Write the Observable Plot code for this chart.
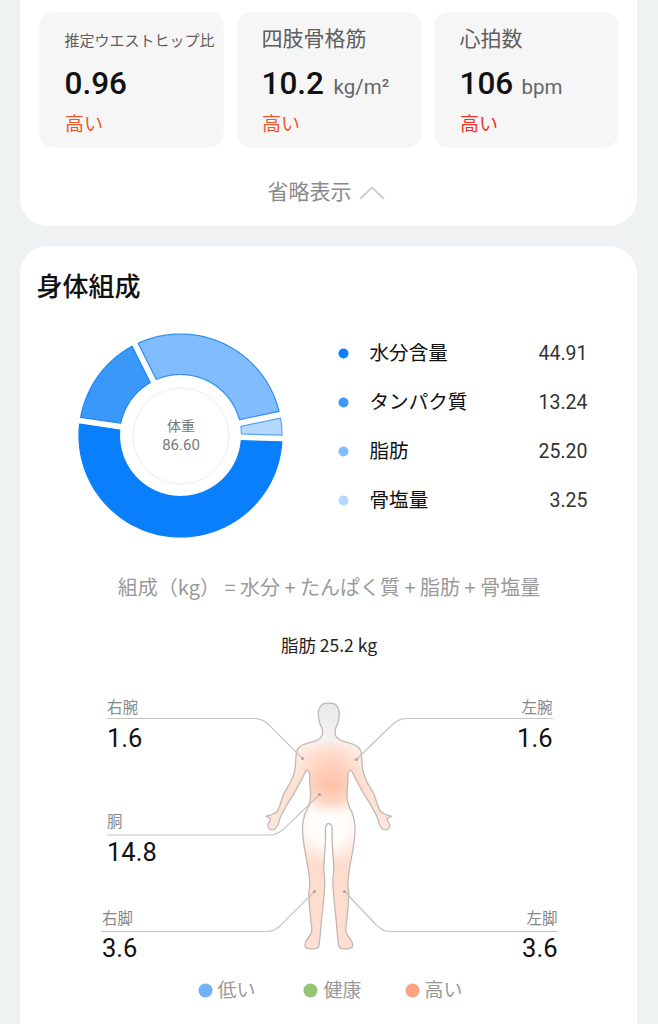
<!DOCTYPE html>
<html><head><meta charset="utf-8">
<script src="https://cdn.jsdelivr.net/npm/d3@7"></script>
<script src="https://cdn.jsdelivr.net/npm/@observablehq/plot@0.6"></script>
<style>html,body{margin:0;padding:0;background:#eff2f3}svg{display:block}</style>
</head><body><div id="chart"></div>
<script>
// ---- values ----
const metricNames = ["推定ウエストヒップ比", "四肢骨格筋", "心拍数"];
const metricValues = ["0.96", "10.2", "106"];
const metricUnits = ["", "kg/m²", "bpm"];
const metricStatus = ["高い", "高い", "高い"];
const collapseLabel = "省略表示";
const sectionTitle = "身体組成";
const weightLabel = "体重";
const weightValue = "86.60";
const compositionNames = ["水分含量", "タンパク質", "脂肪", "骨塩量"];
const compositionValues = [44.91, 13.24, 25.20, 3.25];
const formula = "組成（kg） = 水分 + たんぱく質 + 脂肪 + 骨塩量";
const fatTitle = "脂肪 25.2 kg";
const regionNames = ["右腕", "左腕", "胴", "右脚", "左脚"];
const regionValues = ["1.6", "1.6", "14.8", "3.6", "3.6"];
const levelNames = ["低い", "健康", "高い"];

// ---- layout & style ----
const FONT = "'Noto Sans CJK JP','Noto Sans',sans-serif";
const NUM = "Roboto,'Noto Sans',sans-serif";
const W = 658, H = 1024;
const cards = [{x1:39.5,x2:223.5},{x1:237,x2:421},{x1:434,x2:618}];
const metricX = [64, 261, 459], unitX = [0, 333, 521];
const statusColors = ["#f0562c", "#f0562c", "#e9342c"];
const donut = {cx:180.5, cy:435.5, R:101.5, r:61, start:1.7, gap:3.4};
const sliceFill = ["#0a7ffb", "#3b98fb", "#81bcff", "#b4d8ff"];
const sliceEdge = ["#0a7ffb", "#1f87f2", "#2f90f2", "#55a6f5"];
const legendY = [353, 402, 451, 500];
const regionLayout = [
  {x:106.5, a:"start", ly:708, vy:738, from:[107,718], corner:[262,718], to:[302,758]},
  {x:552, a:"end",   ly:708, vy:738, from:[552,718], corner:[398,718], to:[356,759]},
  {x:106.5, a:"start", ly:822, vy:852, from:[107,834.5], corner:[277,834.5], to:[319,794]},
  {x:101.5, a:"start", ly:919, vy:948, from:[102,931], corner:[274,931], to:[314,891]},
  {x:557, a:"end",   ly:919, vy:948, from:[557,931], corner:[382,931], to:[344,891]}
];
const levelLayout = [{dot:205,c:"#72b0fa",t:217},{dot:310,c:"#93c572",t:323},{dot:412,c:"#ffa27f",t:424}];

// ---- silhouette (viewer's left half, local px around its axis) ----
const axisX = 328.3;
const halfOutline = [[0,702.7],[-6.7,704],[-10,709.3],[-10.3,716.7],[-9,722.7],[-6.7,728.3],[-6.7,735],[-11,739.3],[-20,742.3],[-27.7,745.3],[-31.7,750],[-33,758.3],[-34,770],[-38.3,781.7],[-45,793.3],[-49,805],[-51.7,810.7],[-56.7,814],[-62.7,815.7],[-58.3,818.3],[-61,825],[-59,828.7],[-55,829],[-51,825],[-49,818.3],[-43.3,806.7],[-35,793.3],[-26.7,778.3],[-22.3,770],[-19.7,771.7],[-19,781.7],[-18.3,796.7],[-20,805],[-24.3,815],[-26.3,826.7],[-25,843.3],[-21,866.7],[-19,883.3],[-20,893.3],[-18.3,916.7],[-17.3,931.7],[-23.3,941.7],[-23.3,946.7],[-18.3,948.3],[-11,947.3],[-9,938.3],[-7.7,923.3],[-5,896.7],[-4,880],[-5,870],[-3.3,840],[-2.7,825],[0,823]];
const outline = [...halfOutline, ...halfOutline.slice(1,-1).reverse().map(([x,y])=>[-x,y])]
  .map(([x,y])=>({x:axisX+x,y}));

function leader(from, corner, to) {
  // line with a small rounded elbow
  const a = [corner[0]+(from[0]-corner[0])*8/Math.abs(from[0]-corner[0]), corner[1]];
  const L = Math.hypot(to[0]-corner[0],to[1]-corner[1]);
  const b = [corner[0]+(to[0]-corner[0])*10/L, corner[1]+(to[1]-corner[1])*10/L];
  const pts = [from];
  for (let t=0;t<=1.001;t+=0.2) {
    const u=1-t;
    pts.push([u*u*a[0]+2*u*t*corner[0]+t*t*b[0], u*u*a[1]+2*u*t*corner[1]+t*t*b[1]]);
  }
  pts.push(to);
  return pts;
}

// ---- donut geometry from values ----
const total = d3.sum(compositionValues);
let acc = donut.start;
const donutRows = [];
compositionNames.forEach((name,i)=>{
  const a0 = acc, a1 = acc + compositionValues[i]/total*360; acc = a1;
  const outO = Math.asin(donut.gap/donut.R)*180/Math.PI, inO = Math.asin(donut.gap/donut.r)*180/Math.PI;
  const n = Math.max(8, Math.ceil((a1-a0)*1.5));
  for (let k=0;k<=n;k++) {
    const f=k/n;
    const ao=(a0+outO+(a1-a0-2*outO)*f)*Math.PI/180, ai=(a0+inO+(a1-a0-2*inO)*f)*Math.PI/180;
    donutRows.push({name, edge:name+"|edge",
      x1:donut.cx+donut.R*Math.cos(ao), y1:donut.cy+donut.R*Math.sin(ao),
      x2:donut.cx+donut.r*Math.cos(ai), y2:donut.cy+donut.r*Math.sin(ai)});
  }
});

const ringRows = d3.range(0,361,4).map(a=>({x:donut.cx+48*Math.cos(a*Math.PI/180), y:donut.cy+48*Math.sin(a*Math.PI/180)}));

const T = (data,o)=>Plot.text(data,{fontFamily:FONT,lineAnchor:"middle",...o});

function defs() {
  const s = d3.create("svg:defs");
  const lin = s.append("linearGradient").attr("id","bodyBase").attr("gradientUnits","userSpaceOnUse")
    .attr("x1",0).attr("x2",0).attr("y1",702).attr("y2",950);
  [[0,"#e9e9e9"],[0.14,"#f3f2f1"],[0.19,"#fdf0ea"],[0.34,"#fde0d2"],[0.5,"#fee6db"],[0.68,"#fddccc"],[1,"#fde0d2"]]
    .forEach(([o,c])=>lin.append("stop").attr("offset",o).attr("stop-color",c));
  const rad = (id,cx,cy,rx,ry,stops)=>{
    const g=s.append("radialGradient").attr("id",id).attr("gradientUnits","userSpaceOnUse")
      .attr("cx",0).attr("cy",0).attr("r",1)
      .attr("gradientTransform",`translate(${cx} ${cy}) scale(${rx} ${ry})`);
    stops.forEach(([o,c,a])=>g.append("stop").attr("offset",o).attr("stop-color",c).attr("stop-opacity",a));
  };
  rad("bodyWhite",328,822,42,42,[[0,"#ffffff",1],[0.5,"#ffffff",0.85],[1,"#ffffff",0]]);
  rad("bodyHeat",331,786,36,30,[[0,"#ffbea2",0.95],[0.55,"#ffc9b2",0.7],[1,"#ffd6c4",0]]);
  rad("bodyChest",329,764,38,26,[[0,"#ffcdb8",0.9],[0.6,"#ffd6c4",0.6],[1,"#ffdccd",0]]);
  return s.node();
}

const bodyFill = id => Plot.line(outline,{x:"x",y:"y",curve:"catmull-rom-closed",fill:`url(#${id})`,stroke:"none"});

const chart = Plot.plot({
  width:W, height:H, margin:0,
  x:{domain:[0,W],range:[0,W],axis:null},
  y:{domain:[0,H],range:[0,H],axis:null},
  color:{type:"ordinal",
    domain:[...compositionNames,...compositionNames.map(n=>n+"|edge")],
    range:[...sliceFill,...sliceEdge]},
  style:{background:"#eff2f3",fontFamily:FONT},
  marks:[
    defs,
    Plot.rect([{x1:20,x2:637,y1:-40,y2:226},{x1:20,x2:637,y1:246,y2:1080}],{x1:"x1",x2:"x2",y1:"y1",y2:"y2",fill:"#fff",rx:28}),
    Plot.rect(cards,{x1:"x1",x2:"x2",y1:()=>12,y2:()=>147.5,fill:"#f6f6f6",rx:14}),
    T(metricNames.slice(0,1),{text:d=>d,x:()=>metricX[0],y:()=>41,fontSize:15,fill:"#5f5f5f",textAnchor:"start"}),
    T(metricNames.slice(1),{text:d=>d,x:(d,i)=>metricX[i+1],y:()=>39,fontSize:21,fill:"#5f5f5f",textAnchor:"start"}),
    T(metricValues,{text:d=>d,x:(d,i)=>metricX[i],y:()=>83,fontFamily:NUM,fontSize:31.5,fontWeight:500,fill:"#111",textAnchor:"start"}),
    T(metricUnits,{text:d=>d,x:(d,i)=>unitX[i],y:()=>87,fontFamily:NUM,fontSize:20.5,fill:"#666",textAnchor:"start"}),
    metricStatus.map((s,i)=>T([s],{text:d=>d,x:()=>metricX[i]+0.5,y:()=>124,fontSize:19,fill:statusColors[i],textAnchor:"start"})),
    T([collapseLabel],{text:d=>d,x:()=>309,y:()=>192,fontSize:21,fill:"#8a8a8a",textAnchor:"middle"}),
    Plot.line([[360,198],[371.5,187],[383,198]],{x:"0",y:"1",stroke:"#cfcfcf",strokeWidth:2}),
    T([sectionTitle],{text:d=>d,x:()=>36,y:()=>287.5,fontSize:26,fontWeight:500,fill:"#111",textAnchor:"start"}),

    Plot.area(donutRows,{x1:"x1",y1:"y1",x2:"x2",y2:"y2",z:"name",fill:"name",curve:"linear"}),
    Plot.area(donutRows,{x1:"x1",y1:"y1",x2:"x2",y2:"y2",z:"name",fill:null,stroke:"edge",strokeWidth:1.2,curve:"linear"}),
    Plot.line(ringRows,{x:"x",y:"y",stroke:"#ececec",strokeWidth:1}),
    T([weightLabel],{text:d=>d,x:()=>donut.cx,y:()=>426.5,fontSize:14,fill:"#7a7a7a",textAnchor:"middle"}),
    T([weightValue],{text:d=>d,x:()=>donut.cx,y:()=>445,fontFamily:NUM,fontSize:15,fill:"#7a7a7a",textAnchor:"middle"}),

    Plot.dot(compositionNames,{x:()=>343,y:(d,i)=>legendY[i],r:5,fill:d=>d}),
    T(compositionNames,{text:d=>d,x:()=>369,y:(d,i)=>legendY[i]+0.5,fontSize:19.6,fill:"#111",textAnchor:"start"}),
    T(compositionValues,{text:d=>d.toFixed(2),x:()=>587,y:(d,i)=>legendY[i],fontFamily:NUM,fontSize:19.5,fill:"#333",textAnchor:"end"}),

    T([formula],{text:d=>d,x:()=>328.5,y:()=>588.5,fontSize:20,fill:"#9a9a9a",textAnchor:"middle"}),
    T([fatTitle],{text:d=>d,x:()=>328.5,y:()=>646,fontSize:17.5,fill:"#222",textAnchor:"middle"}),

    bodyFill("bodyBase"), bodyFill("bodyWhite"), bodyFill("bodyChest"), bodyFill("bodyHeat"),
    Plot.line(outline,{x:"x",y:"y",curve:"catmull-rom-closed",stroke:"#c2b8b3",strokeWidth:1.3,fill:"none"}),

    regionLayout.map(r=>Plot.line(leader(r.from,r.corner,r.to),{x:"0",y:"1",stroke:"#c4c4c4",strokeWidth:1.2})),
    Plot.dot(regionLayout,{x:r=>r.to[0],y:r=>r.to[1],r:1.6,fill:"#aaa"}),
    regionNames.map((n,i)=>T([n],{text:d=>d,x:()=>regionLayout[i].x,y:()=>regionLayout[i].ly,fontSize:15.5,fill:"#888",textAnchor:regionLayout[i].a})),
    regionValues.map((v,i)=>T([v],{text:d=>d,x:()=>regionLayout[i].x,y:()=>regionLayout[i].vy,fontFamily:NUM,fontSize:25.5,fill:"#111",textAnchor:regionLayout[i].a})),

    Plot.dot(levelLayout,{x:"dot",y:()=>990,r:7,fill:d=>d.c}),
    T(levelNames,{text:d=>d,x:(d,i)=>levelLayout[i].t,y:()=>990.5,fontSize:19,fill:"#999",textAnchor:"start"})
  ]
});
document.getElementById("chart").append(chart);
</script></body></html>
